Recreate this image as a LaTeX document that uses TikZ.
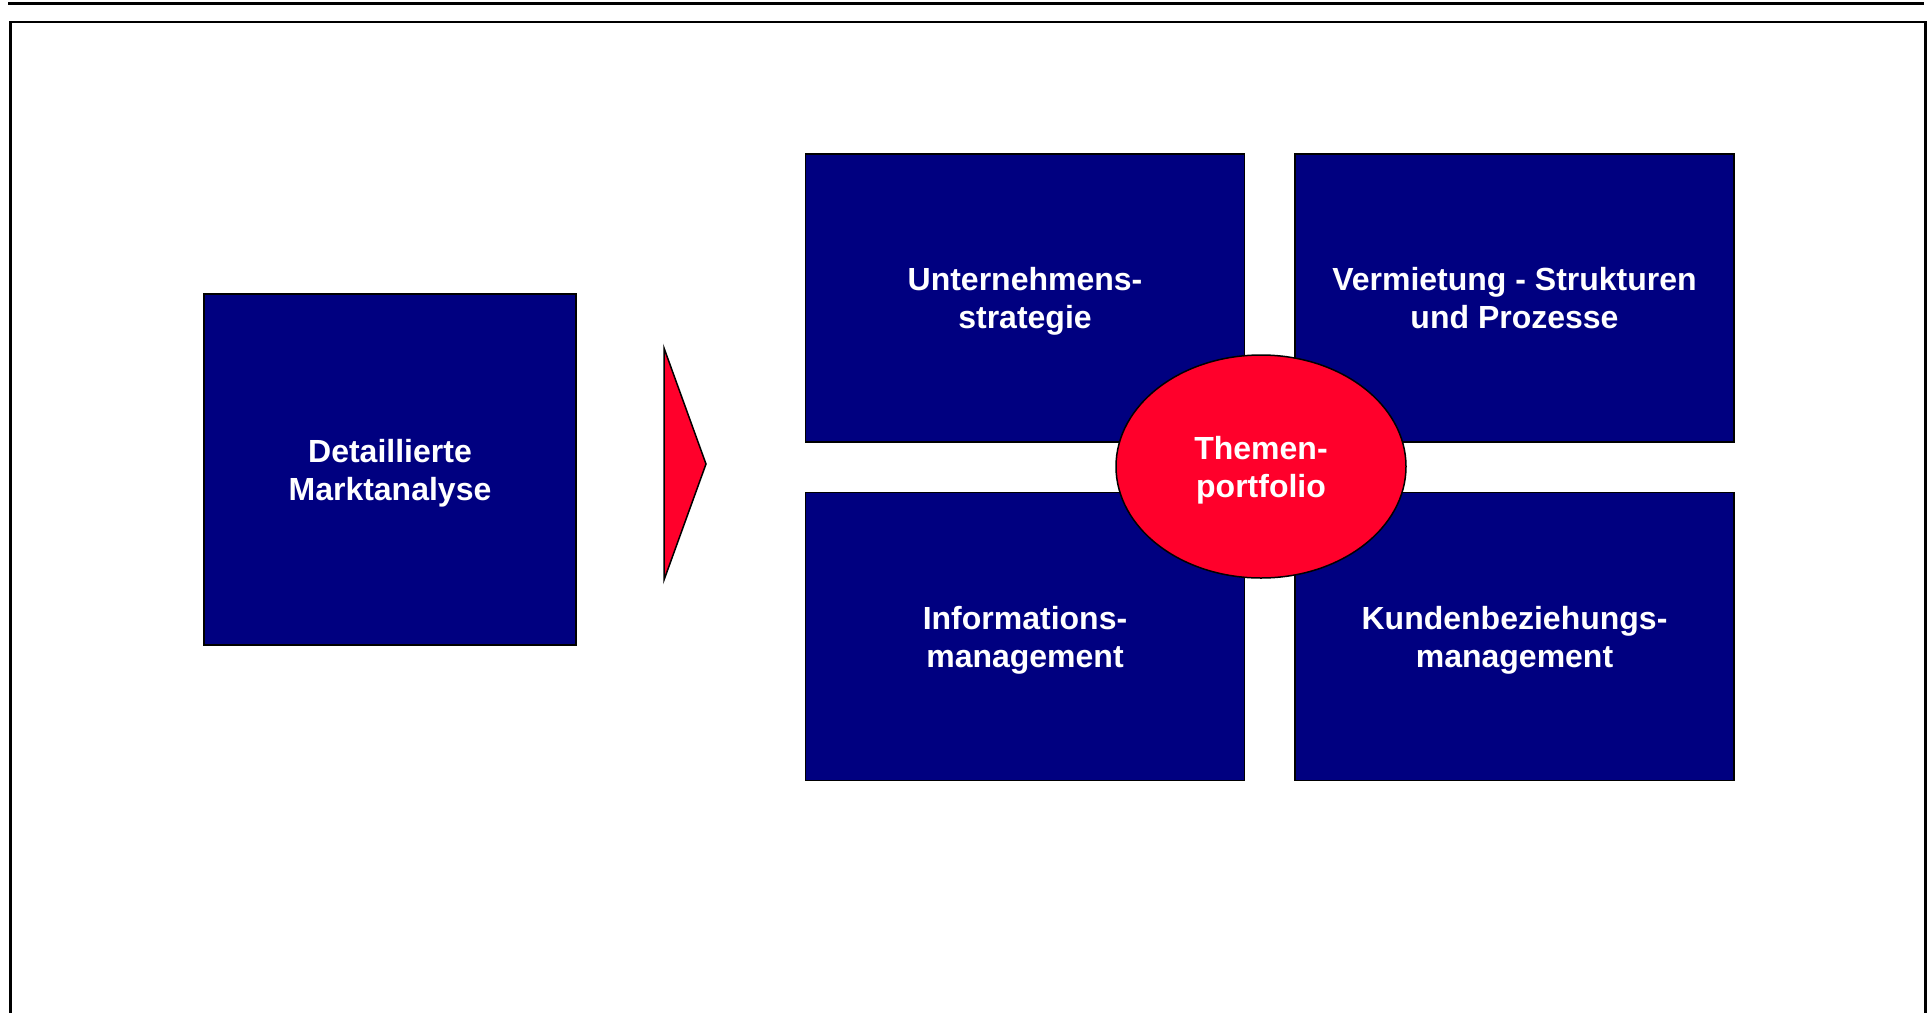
\documentclass[tikz,border=0pt]{standalone}
\usepackage{fontspec}
\setmainfont{Liberation Sans}
\usetikzlibrary{positioning,shapes.geometric}

\definecolor{boxblue}{RGB}{0,0,128}
\definecolor{themered}{RGB}{255,0,43}

\begin{document}
\begin{tikzpicture}[x=1pt,y=-1pt,on grid,
      box/.style={draw=black,line width=1.5pt,fill=boxblue,text=white,
        align=center,text depth=-7.5pt,font=\fontsize{32}{38}\selectfont\bfseries},
      quad/.style={box,minimum width=439pt,minimum height=288pt},
      portfolio/.style={ellipse,draw=black,line width=1.5pt,fill=themered,
        text=white,align=center,text depth=-7.5pt,inner sep=0pt,minimum width=290pt,
        minimum height=223pt,font=\fontsize{32}{38}\selectfont\bfseries}]
      \useasboundingbox (0,0) rectangle (1927,1012);
      % rule and frame
      \draw[line width=3pt] (8,3.3) -- (1924,3.3);
      \draw[line width=2.5pt] (10.5,1030) |- (1925.5,22) -- (1925.5,1030);
      \node[box,minimum width=372pt,minimum height=351pt] (markt) at (390,469.5)
        {Detaillierte\\Marktanalyse};
      % arrow
      \draw[line width=1.5pt,line join=miter,fill=themered]
        (664,348) -- (706,464) -- (664,580) -- cycle;
      \node[quad] (strat) at (1025,298) {Unternehmens-\\strategie};
      \node[quad] (verm) [right=489.5pt of strat] {Vermietung - Strukturen\\und Prozesse};
      \node[quad] (info) [below=338.5pt of strat] {Informations-\\management};
      \node[quad] (kunde) [right=489.5pt of info] {Kundenbeziehungs-\\management};
      \node[portfolio] (themen) at (1261,466.5) {Themen-\\portfolio};
\end{tikzpicture}
\end{document}
